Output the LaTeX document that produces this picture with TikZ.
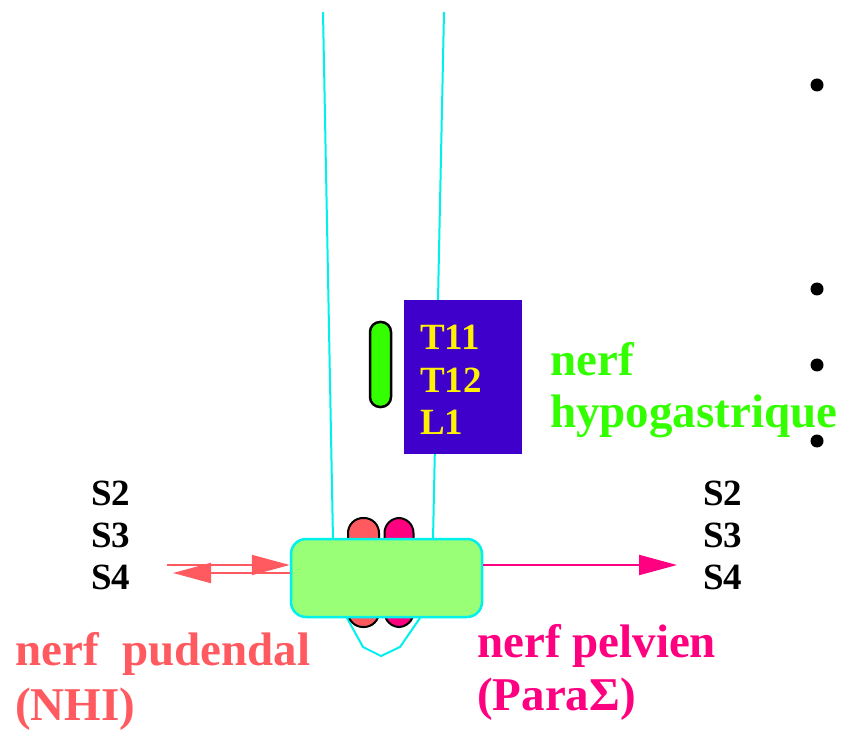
\documentclass[tikz,border=0pt]{standalone}
\usepackage{fontspec}
\setmainfont{Liberation Serif}
\usetikzlibrary{arrows.meta}
\definecolor{cordcyan}{RGB}{0,240,235}
\definecolor{boxgreen}{RGB}{153,255,119}
\definecolor{pudred}{RGB}{255,90,95}
\definecolor{pelvpink}{RGB}{255,0,128}
\definecolor{hypogreen}{RGB}{51,255,0}
\definecolor{rootblue}{RGB}{63,0,204}
\tikzset{>={Triangle[length=38pt,width=20pt]}}
\tikzset{lab/.style={anchor=base west, inner sep=0pt, font=\bfseries\fontsize{47}{54}\selectfont}}
\tikzset{seg/.style={anchor=base west, inner sep=0pt, font=\bfseries\fontsize{37}{42}\selectfont}}
\tikzset{capsule/.style={draw=black, line width=2pt, minimum width=31pt, minimum height=109pt, rounded corners=15pt, inner sep=0pt}}

\begin{document}
\begin{tikzpicture}[x=1pt, y=-1pt]
    \useasboundingbox (0,0) rectangle (847,730);
    % spinal cord outline
    \draw[cordcyan, line width=2pt] (323,12) -- (333,540) -- (347,618) -- (363,647) -- (381,656) -- (400,647) -- (420,618) -- (433,540) -- (444,12);
    \node[capsule, fill=pudred] (pudcaps) at (363.5,572.5) {};
    \node[capsule, fill=pelvpink, minimum width=29pt] (pelvcaps) at (399,572.5) {};
    \draw[pelvpink, line width=2pt] (pelvcaps.60) -- ++(17,10);
    \node[draw=cordcyan, fill=boxgreen, line width=2.5pt, rounded corners=15pt, minimum width=191pt, minimum height=78pt, inner sep=0pt] (ganglion) at (386.5,578) {};
    % hypogastric root
    \node[draw=black, fill=hypogreen, line width=2.5pt, minimum width=21pt, minimum height=85pt, rounded corners=10pt, inner sep=0pt] (hypocaps) at (380.5,364.5) {};
    \node[fill=rootblue, minimum width=118pt, minimum height=154pt, inner sep=0pt] (rootbox) at (463,377) {};
    \foreach \t [count=\i] in {T11,T12,L1}
        \node[seg, text=yellow] (root\i) at (420,308+42*\i) {\t};
    % sacral segments
    \foreach \s [count=\i] in {S2,S3,S4} {
        \node[seg] (segl\i) at (91,463+42*\i) {\s};
        \node[seg] (segr\i) at (703,463+42*\i) {\s};
    }
    % nerves
    \coordinate (pudin) at (167,565);
    \coordinate (pudout) at (173,573);
    \coordinate (pelvout) at (677,565);
    \draw[->, pudred, line width=2pt] (pudin) -- (pudin -| ganglion.west);
    \draw[->, pudred, line width=2pt] (pudout -| ganglion.west) -- (pudout);
    \draw[->, pelvpink, line width=2pt] (ganglion.east |- pelvout) -- (pelvout);
    \node[lab, text=pudred] (pudlab) at (15,665) {nerf\ \ pudendal};
    \node[lab, text=pudred] (pudsub) at (15,720) {(NHI)};
    \node[lab, text=pelvpink] (pelvlab) at (477,657) {nerf pelvien};
    \node[lab, text=pelvpink] (pelvsub) at (477,710) {(ParaΣ)};
    \node[lab, text=hypogreen] (hypolab) at (550,375) {nerf};
    \node[lab, text=hypogreen] (hyposub) at (550,427) {hypogastrique};
    % bullets
    \foreach \y in {85,289,365,441}
        \fill (817,\y) circle (6.5pt);
\end{tikzpicture}
\end{document}
